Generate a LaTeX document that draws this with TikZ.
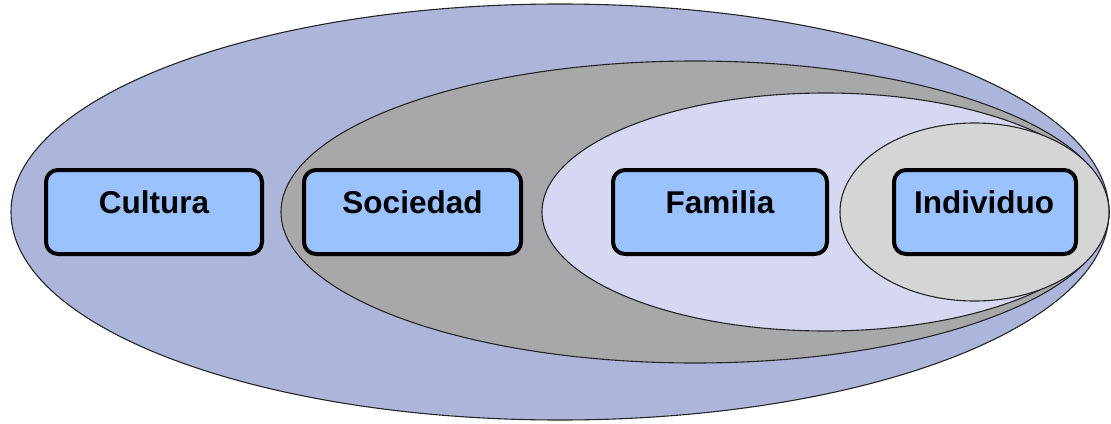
\documentclass[tikz,border=0pt]{standalone}
\usepackage{fontspec}
\setmainfont{Liberation Sans}
\definecolor{outerc}{HTML}{AEB5DB}
\definecolor{socc}{HTML}{A8A8AA}
\definecolor{famc}{HTML}{D6D7F0}
\definecolor{indc}{HTML}{D5D5D5}
\definecolor{boxc}{HTML}{99C2FF}
\tikzset{
  ring/.style={draw=black!85, line width=1.1pt},
  lbox/.style={draw=black, fill=boxc, line width=4pt, rounded corners=12pt, minimum height=84pt, inner sep=0pt},
  lab/.style={font=\bfseries\fontsize{31.5}{31.5}\selectfont, anchor=base, inner sep=0pt}
}
\begin{document}
\begin{tikzpicture}[x=1pt,y=-1pt]
\useasboundingbox (0,0) rectangle (1111,423);
\filldraw[ring, fill=outerc] (560,212) ellipse [x radius=549, y radius=208];
\filldraw[ring, fill=socc] (695,212) ellipse [x radius=414, y radius=151];
\filldraw[ring, fill=famc] (825.5,212) ellipse [x radius=283.5, y radius=119];
\filldraw[ring, fill=indc] (974.5,212) ellipse [x radius=134.5, y radius=89];
\node[lbox, minimum width=216pt] (cultura) at (154,212) {};
\node[lbox, minimum width=217pt] (sociedad) at (412.5,212) {};
\node[lbox, minimum width=214pt] (familia) at (720,212) {};
\node[lbox, minimum width=182pt] (individuo) at (985,212) {};
\node[lab] (tcultura) at (154,213) {Cultura};
\node[lab] (tsociedad) at (412.5,213) {Sociedad};
\node[lab] (tfamilia) at (720,213) {Familia};
\node[lab] (tindividuo) at (984,213) {Individuo};
\end{tikzpicture}
\end{document}
